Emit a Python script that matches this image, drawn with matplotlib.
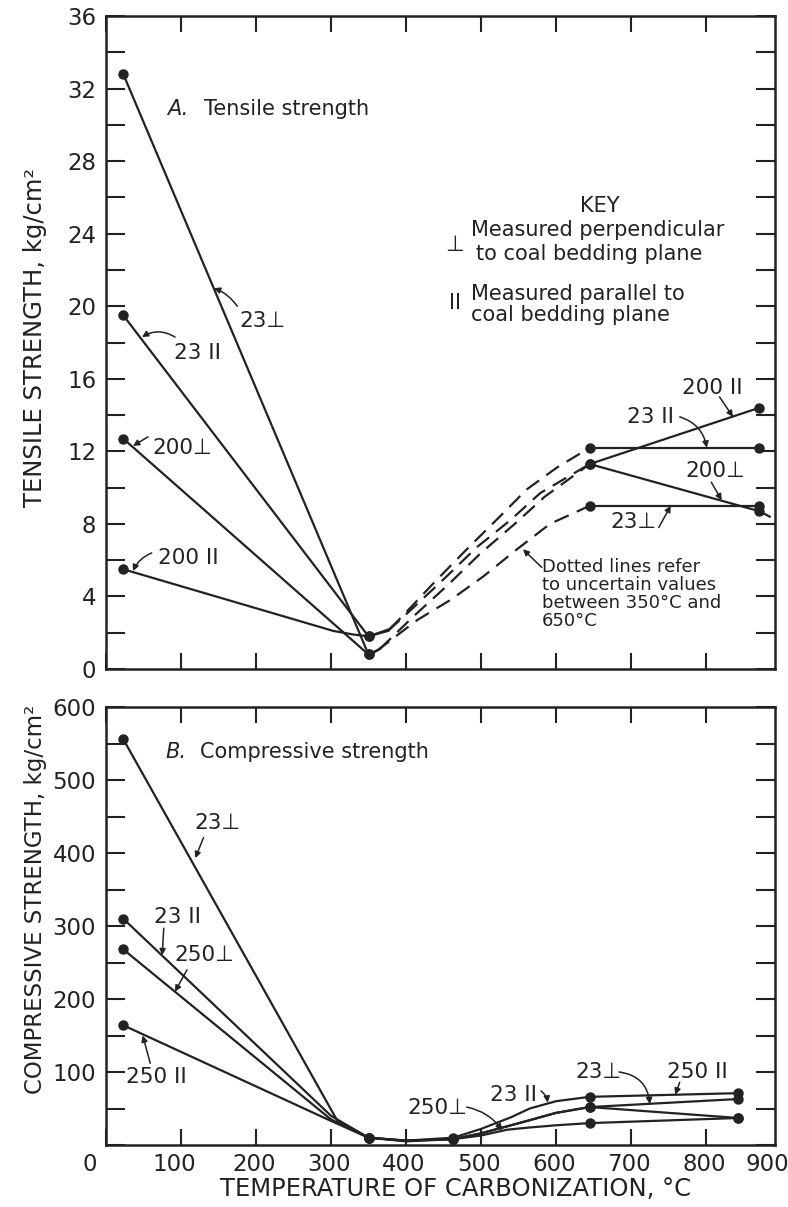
import matplotlib
matplotlib.use('Agg')
from matplotlib import pyplot as plt
from matplotlib.ticker import MultipleLocator, NullFormatter

plt.rcParams['font.family'] = ['DejaVu Sans']
INK = '#222222'

# ---- data: A. tensile strength (kg/cm2) vs temperature (deg C) ----
# solid part, raw coal -> 350 C
t_23perp_low_x = [23, 350]
t_23perp_low_y = [32.8, 0.8]
t_23par_low_x = [23, 350]
t_23par_low_y = [19.5, 1.8]
t_200perp_low_x = [23, 350]
t_200perp_low_y = [12.7, 0.8]
t_200par_low_x = [23, 303, 330, 350]
t_200par_low_y = [5.5, 2.1, 1.9, 1.8]

# uncertain part (dashed), 350 C -> 645 C
t_23perp_mid_x = [350, 361, 415, 459, 503, 548, 592, 645]
t_23perp_mid_y = [0.8, 1.0, 2.7, 3.8, 5.1, 6.6, 8.0, 9.0]
t_23par_mid_x = [350, 378, 395, 436, 481, 525, 561, 601, 645]
t_23par_mid_y = [1.8, 2.2, 2.9, 4.7, 6.6, 8.4, 9.9, 11.1, 12.2]
t_200perp_mid_x = [350, 365, 410, 455, 500, 545, 585, 645]
t_200perp_mid_y = [0.8, 1.1, 2.9, 4.6, 6.4, 8.0, 9.5, 11.3]
t_200par_mid_x = [350, 376, 405, 449, 494, 539, 579, 645]
t_200par_mid_y = [1.8, 2.1, 3.2, 4.9, 6.7, 8.2, 9.7, 11.3]

# solid part, 645 C -> 871 C
t_23perp_high_x = [645, 871]
t_23perp_high_y = [9.0, 9.0]
t_23par_high_x = [645, 871]
t_23par_high_y = [12.2, 12.2]
t_200perp_high_x = [645, 871, 885]
t_200perp_high_y = [11.3, 8.7, 8.4]
t_200par_high_x = [645, 871]
t_200par_high_y = [11.3, 14.4]

# ---- data: B. compressive strength (kg/cm2) ----
c_23perp_x = [23, 308, 350, 400, 463, 500, 540, 565, 600, 645, 843]
c_23perp_y = [556, 34, 10, 6, 8, 16, 27, 34, 44, 52, 63]
c_23par_x = [23, 300, 350, 400, 463, 500, 540, 565, 600, 645, 843]
c_23par_y = [310, 40, 10, 6, 8, 16, 27, 34, 44, 52, 37]
c_250perp_x = [23, 300, 350, 400, 463, 500, 535, 565, 600, 645, 843]
c_250perp_y = [268, 35, 10, 5, 8, 13, 21, 24, 27, 30, 37]
c_250par_x = [23, 300, 350, 400, 463, 500, 540, 565, 600, 645, 843]
c_250par_y = [164, 33, 10, 6, 10, 22, 38, 50, 60, 66, 71]

x_tick_labels = ['0', '100', '200', '300', '400', '500', '600', '700', '800', '900']
x_tick_values = [0, 100, 200, 300, 400, 500, 600, 700, 800, 900]
t_yticks = [0, 4, 8, 12, 16, 20, 24, 28, 32, 36]
c_yticks = [100, 200, 300, 400, 500, 600]

fig = plt.figure(figsize=(7.88, 12.07), dpi=100)
W, H = 788, 1207
ax1 = fig.add_axes([106 / W, 1 - 669 / H, 669 / W, 653 / H])
ax2 = fig.add_axes([106 / W, 1 - 1145 / H, 669 / W, 438 / H])

line_kw = dict(color=INK, lw=1.6, marker='o', ms=6.5, mfc=INK, mec=INK)
dash_kw = dict(color=INK, lw=1.6, linestyle=(0, (7, 4)))

# top panel
for x, y in [(t_23perp_low_x, t_23perp_low_y), (t_23par_low_x, t_23par_low_y),
             (t_200perp_low_x, t_200perp_low_y)]:
    ax1.plot(x, y, **line_kw)
ax1.plot(t_200par_low_x, t_200par_low_y, markevery=[0, 3], **line_kw)
for x, y in [(t_23perp_mid_x, t_23perp_mid_y), (t_23par_mid_x, t_23par_mid_y),
             (t_200perp_mid_x, t_200perp_mid_y), (t_200par_mid_x, t_200par_mid_y)]:
    ax1.plot(x[:2], y[:2], color=INK, lw=1.6)
    ax1.plot(x[1:], y[1:], **dash_kw)
for x, y in [(t_23perp_high_x, t_23perp_high_y), (t_23par_high_x, t_23par_high_y),
             (t_200par_high_x, t_200par_high_y)]:
    ax1.plot(x, y, **line_kw)
ax1.plot(t_200perp_high_x, t_200perp_high_y, markevery=[0, 1], **line_kw)

# bottom panel
for x, y in [(c_23perp_x, c_23perp_y), (c_23par_x, c_23par_y),
             (c_250perp_x, c_250perp_y), (c_250par_x, c_250par_y)]:
    ax2.plot(x, y, markevery=[0, 2, 4, 9, 10], **line_kw)

for ax in (ax1, ax2):
    ax.set_xlim(0, 892)
    ax.xaxis.set_major_locator(MultipleLocator(100))
    ax.xaxis.set_major_formatter(NullFormatter())
    ax.tick_params(axis='both', which='both', direction='in', top=True, right=True,
                   width=1.5, color=INK, labelcolor=INK, labelsize=16.5, pad=7)
    ax.tick_params(axis='x', which='both', length=11.5)
    ax.tick_params(axis='y', which='both', length=14)
    for s in ax.spines.values():
        s.set_linewidth(1.8)
        s.set_color(INK)

ax1.set_ylim(0, 36)
ax1.set_yticks(t_yticks)
ax1.yaxis.set_minor_locator(MultipleLocator(2))
ax2.set_ylim(0, 600)
ax2.set_yticks(c_yticks)
ax2.yaxis.set_minor_locator(MultipleLocator(50))

x_label_shift = {0: -16, 100: -7, 900: -14}
for v, lab in zip(x_tick_values, x_tick_labels):
    ax2.annotate(lab, xy=(v, 0), xycoords=('data', 'axes fraction'),
                 xytext=(x_label_shift.get(v, -2), -8),
                 textcoords='offset pixels', ha='center', va='top', fontsize=16.5,
                 color=INK, annotation_clip=False)

ax1.set_ylabel('TENSILE STRENGTH, kg/cm²', fontsize=17.5, color=INK)
ax1.yaxis.set_label_coords(-0.088, 0.507)
ax2.set_ylabel('COMPRESSIVE STRENGTH, kg/cm²', fontsize=16.5, color=INK)
ax2.yaxis.set_label_coords(-0.088, 0.56)
ax2.set_xlabel('TEMPERATURE OF CARBONIZATION, °C', fontsize=17.5, color=INK)
ax2.xaxis.set_label_coords(0.523, -0.072)

tk = dict(fontsize=15.5, color=INK)
kk = dict(fontsize=15, color=INK)
arrow = dict(arrowstyle='-|>', lw=1.1, color=INK, mutation_scale=9, shrinkA=0, shrinkB=0)

# panel titles
ax1.text(81, 30.9, 'A.', style='italic', va='center', **kk)
ax1.text(130, 30.9, 'Tensile strength', va='center', **kk)
ax2.text(79, 539, 'B.', style='italic', va='center', **kk)
ax2.text(125, 539, 'Compressive strength', va='center', **kk)

# key
ax1.text(659, 25.5, 'KEY', ha='center', va='center', **kk)
ax1.text(465, 23.4, '⊥', ha='center', va='center', **tk)
ax1.text(487, 24.2, 'Measured perpendicular', va='center', **kk)
ax1.text(494, 22.9, 'to coal bedding plane', va='center', **kk)
ax1.text(465, 20.2, 'II', ha='center', va='center', **kk)
ax1.text(487, 20.7, 'Measured parallel to', va='center', **kk)
ax1.text(487, 19.5, 'coal bedding plane', va='center', **kk)
ax1.text(581, 6.1, 'Dotted lines refer\nto uncertain values\nbetween 350°C and\n650°C',
         va='top', linespacing=1.0, fontsize=13, color=INK)
ax1.annotate('', xy=(556, 6.6), xytext=(581, 5.6), arrowprops=arrow)

# curve labels, top panel: (text, text xy, tail, head, rad)
top_labels = [
    ('23⊥', (208, 19.2), (175, 20.0), (144, 21.0), 0.15),
    ('23 II', (122, 17.4), (92, 18.3), (48, 18.3), 0.3),
    ('200⊥', (101, 12.2), (56, 12.8), (36, 12.3), 0.0),
    ('200 II', (110, 6.1), (61, 6.4), (36, 5.4), 0.2),
    ('200 II', (809, 15.5), (818, 15.0), (836, 13.9), 0.0),
    ('23 II', (726, 13.9), (765, 13.9), (801, 12.2), -0.3),
    ('200⊥', (812, 10.9), (807, 10.3), (821, 9.3), 0.0),
    ('23⊥', (703, 8.1), (737, 7.8), (753, 9.0), 0.0),
]
for s, txy, tail, head, rad in top_labels:
    ax1.text(txy[0], txy[1], s, ha='center', va='center', **tk)
    ax1.annotate('', xy=head, xytext=tail,
                 arrowprops=dict(arrow, connectionstyle='arc3,rad=%s' % rad))

bottom_labels = [
    ('23⊥', (148, 441), (130, 421), (119, 393), 0.0),
    ('23 II', (95, 312), (77, 297), (75, 260), 0.0),
    ('250⊥', (131, 260), (108, 240), (92, 210), 0.0),
    ('250 II', (67, 93), (59, 112), (49, 150), 0.0),
    ('250⊥', (442, 51), (481, 52), (528, 20), -0.2),
    ('23 II', (543, 68), (580, 74), (589, 58), -0.2),
    ('23⊥', (657, 100), (684, 100), (725, 56), -0.4),
    ('250 II', (788, 100), (765, 86), (759, 69), 0.0),
]
for s, txy, tail, head, rad in bottom_labels:
    ax2.text(txy[0], txy[1], s, ha='center', va='center', **tk)
    ax2.annotate('', xy=head, xytext=tail,
                 arrowprops=dict(arrow, connectionstyle='arc3,rad=%s' % rad))

fig.savefig('out.png', dpi=100, facecolor='white')
